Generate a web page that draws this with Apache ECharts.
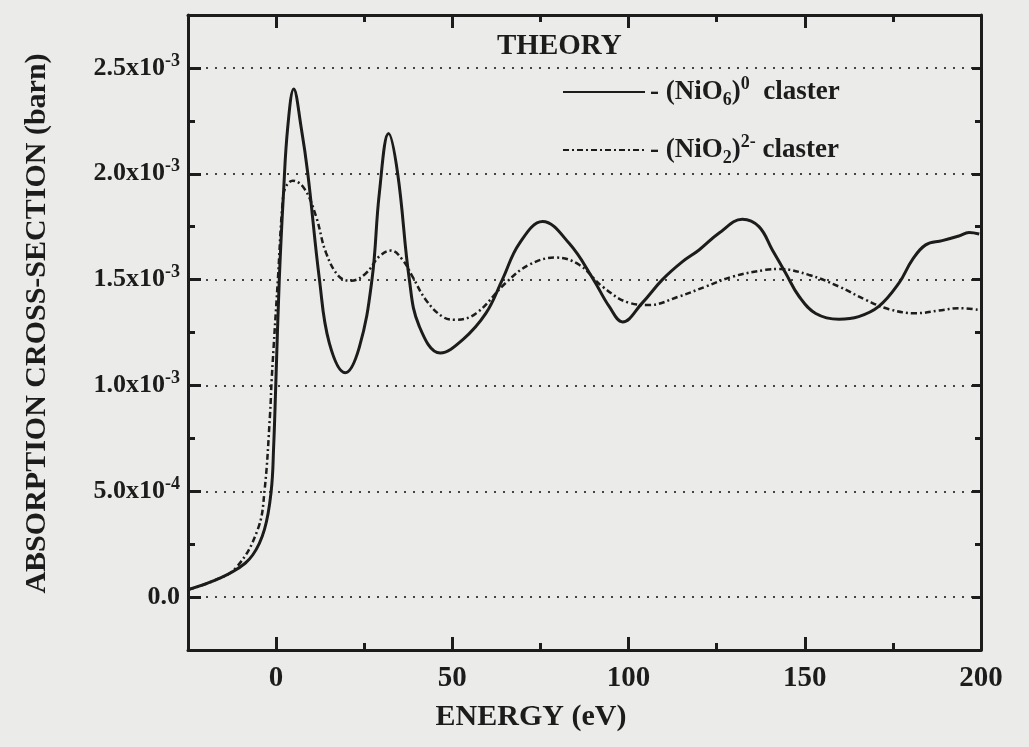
<!DOCTYPE html>
<html>
<head>
<meta charset="utf-8">
<script src="https://cdn.jsdelivr.net/npm/echarts@6/dist/echarts.min.js"></script>
<style>
  html, body { margin: 0; background: #ebebe9; }
  #chart { width: 1029px; height: 747px; }
</style>
</head>
<body>
<div id="chart"></div>
<script>
// energy in eV, cross-section in units of 1e-3 barn
const nio6Energy = [-25, -18, -11.3, -6.6, -3.3, -1.4, -0.7, -0.1, 0.9, 2.1, 3.3, 5.0, 7.1, 9.0, 12.3, 15.1, 19.6, 23.6,
  27.2, 29.3, 31.9, 34.5, 37.8, 40.6, 46.6, 52.9, 59.5, 64.2, 69.0, 75.6, 83.2, 89.8, 94.5, 98.3, 103.9, 109.6, 115.3, 120.0,
  125.7, 132.3, 137.0, 140.8, 144.6, 148.4, 153.1, 159.7, 165.3, 171.0, 176.7, 180.5, 184.3, 189.0, 193.7, 196.6, 199.5];
const nio6Cross = [0.035, 0.075, 0.13, 0.20, 0.32, 0.50, 0.71, 1.00, 1.50, 1.91, 2.22, 2.40, 2.22, 2.00, 1.50, 1.20, 1.06, 1.18,
  1.50, 1.91, 2.19, 2.00, 1.50, 1.28, 1.153, 1.215, 1.34, 1.50, 1.67, 1.774, 1.67, 1.507, 1.373, 1.30, 1.39, 1.50, 1.585, 1.64,
  1.72, 1.785, 1.75, 1.64, 1.53, 1.42, 1.34, 1.313, 1.325, 1.373, 1.483, 1.593, 1.664, 1.684, 1.706, 1.722, 1.715];

const nio2Energy = [-25, -18, -11.3, -5.2, -3.3, -1.7, -1.25, 0.5, 1.9, 2.8, 4.7, 8.0, 11.3, 14.2, 17.9, 21.3, 25.5, 29.3,
  32.6, 35.9, 38.7, 42.5, 47.2, 51.0, 56.7, 65.2, 71.8, 79.4, 86.0, 92.6, 100.2, 105.8, 114.3, 121.9, 129.5, 138.9, 142.7,
  151.2, 159.7, 167.3, 173.9, 181.5, 188.1, 193.7, 199.5];
const nio2Cross = [0.035, 0.075, 0.14, 0.32, 0.50, 0.87, 1.03, 1.50, 1.875, 1.94, 1.967, 1.93, 1.80, 1.625, 1.514, 1.495, 1.53, 1.61,
  1.637, 1.593, 1.514, 1.404, 1.325, 1.31, 1.34, 1.485, 1.57, 1.604, 1.57, 1.467, 1.39, 1.38, 1.42, 1.467, 1.514, 1.546, 1.55,
  1.522, 1.467, 1.404, 1.36, 1.341, 1.354, 1.365, 1.357];

// ticks
const xMajor = [0, 50, 100, 150, 200];
const yMajor = [0, 0.5, 1.0, 1.5, 2.0, 2.5];
const yTickLabels = ['0.0', '5.0x10^-4', '1.0x10^-3', '1.5x10^-3', '2.0x10^-3', '2.5x10^-3'];

const seriesNames = ['NiO6', 'NiO2'];
const legendText = {
  NiO6: '{t|- (NiO}{sub|6}{t|)}{sup|0}{t|  claster}',
  NiO2: '{t|- (NiO}{sub|2}{t|)}{sup|2-}{t| claster}'
};

const FONT = "'Liberation Serif', 'Times New Roman', serif";
const INK = '#1c1c1c';

function zip(xs, ys) { return xs.map((x, i) => [x, ys[i]]); }

// y label -> rich text with superscript exponent
function yLabel(v) {
  const i = yMajor.findIndex(m => Math.abs(m - v) < 1e-9);
  if (i < 0) return '';
  const parts = yTickLabels[i].split('^');
  return parts.length > 1 ? '{b|' + parts[0] + '}{s|' + parts[1] + '}' : '{b|' + parts[0] + '}';
}

const xBase = { type: 'value', min: -25, max: 200, splitLine: { show: false } };
const yBase = { type: 'value', min: -0.25, max: 2.75, splitLine: { show: false } };
const frameLine = { show: true, onZero: false, lineStyle: { color: INK, width: 3 } };
const noLine = { show: false, onZero: false };

const option = {
  backgroundColor: '#ebebe9',
  animation: false,
  title: {
    text: 'THEORY',
    left: 492, top: 27,
    textStyle: { fontFamily: FONT, fontWeight: 'bold', fontSize: 29, color: INK }
  },
  legend: {
    data: seriesNames,
    orient: 'vertical',
    left: 557, top: 70,
    itemWidth: 82, itemHeight: 14, itemGap: 24,
    itemStyle: { opacity: 0 },
    formatter: name => legendText[name],
    textStyle: {
      fontFamily: FONT, fontWeight: 'bold', color: INK,
      rich: {
        t: { fontFamily: FONT, fontWeight: 'bold', fontSize: 27, color: INK, lineHeight: 34 },
        sub: { fontFamily: FONT, fontWeight: 'bold', fontSize: 18, color: INK, verticalAlign: 'bottom', lineHeight: 18 },
        sup: { fontFamily: FONT, fontWeight: 'bold', fontSize: 18, color: INK, verticalAlign: 'top', lineHeight: 18 }
      }
    }
  },
  grid: { left: 188, right: 48, top: 15, bottom: 97, containLabel: false },
  xAxis: [
    Object.assign({}, xBase, {
      position: 'bottom',
      name: 'ENERGY (eV)', nameLocation: 'middle', nameGap: 52,
      nameTextStyle: { fontFamily: FONT, fontWeight: 'bold', fontSize: 30, color: INK, padding: [0, 107, 0, 0] },
      axisLine: frameLine,
      axisTick: { inside: true, length: 13, customValues: xMajor, lineStyle: { color: INK, width: 3 } },
      axisLabel: { customValues: xMajor, margin: 14, fontFamily: FONT, fontWeight: 'bold', fontSize: 29, color: INK }
    }),
    Object.assign({}, xBase, {
      position: 'bottom', interval: 25,
      axisLine: noLine,
      axisTick: { inside: true, length: 7, lineStyle: { color: INK, width: 3 } },
      axisLabel: { show: false }
    }),
    Object.assign({}, xBase, {
      position: 'top',
      axisLine: frameLine,
      axisTick: { inside: true, length: 13, customValues: xMajor, lineStyle: { color: INK, width: 3 } },
      axisLabel: { show: false }
    }),
    Object.assign({}, xBase, {
      position: 'top', interval: 25,
      axisLine: noLine,
      axisTick: { inside: true, length: 7, lineStyle: { color: INK, width: 3 } },
      axisLabel: { show: false }
    })
  ],
  yAxis: [
    Object.assign({}, yBase, {
      position: 'left',
      name: 'ABSORPTION CROSS-SECTION (barn)', nameLocation: 'middle', nameGap: 136,
      nameTextStyle: { fontFamily: FONT, fontWeight: 'bold', fontSize: 30, color: INK, padding: [0, 0, 0, 18] },
      axisLine: frameLine,
      axisTick: { inside: true, length: 13, customValues: yMajor, lineStyle: { color: INK, width: 3 } },
      axisLabel: {
        customValues: yMajor, margin: 8, formatter: yLabel,
        rich: {
          b: { fontFamily: FONT, fontWeight: 'bold', fontSize: 26, color: INK, lineHeight: 32 },
          s: { fontFamily: FONT, fontWeight: 'bold', fontSize: 18, color: INK, verticalAlign: 'top', lineHeight: 18 }
        }
      },
      splitLine: { show: true, lineStyle: { color: '#444', width: 2, type: [2, 7] } }
    }),
    Object.assign({}, yBase, {
      position: 'left', interval: 0.25,
      axisLine: noLine,
      axisTick: { inside: true, length: 7, lineStyle: { color: INK, width: 3 } },
      axisLabel: { show: false }
    }),
    Object.assign({}, yBase, {
      position: 'right',
      axisLine: frameLine,
      axisTick: { inside: true, length: 9, customValues: yMajor, lineStyle: { color: INK, width: 3 } },
      axisLabel: { show: false }
    }),
    Object.assign({}, yBase, {
      position: 'right', interval: 0.25,
      axisLine: noLine,
      axisTick: { inside: true, length: 6, lineStyle: { color: INK, width: 3 } },
      axisLabel: { show: false }
    })
  ],
  series: [
    {
      name: 'NiO6', type: 'line', xAxisIndex: 0, yAxisIndex: 0,
      data: zip(nio6Energy, nio6Cross),
      showSymbol: false, symbol: 'none', smooth: 0.4, z: 3,
      itemStyle: { color: INK },
      lineStyle: { color: INK, width: 3, type: 'solid' }
    },
    {
      name: 'NiO2', type: 'line', xAxisIndex: 0, yAxisIndex: 0,
      data: zip(nio2Energy, nio2Cross),
      showSymbol: false, symbol: 'none', smooth: 0.4, z: 2,
      itemStyle: { color: INK },
      lineStyle: { color: INK, width: 2.5, type: [6, 3, 2, 3] }
    }
  ]
};

var chart = echarts.init(document.getElementById('chart'));
chart.setOption(option);
</script>
</body>
</html>
